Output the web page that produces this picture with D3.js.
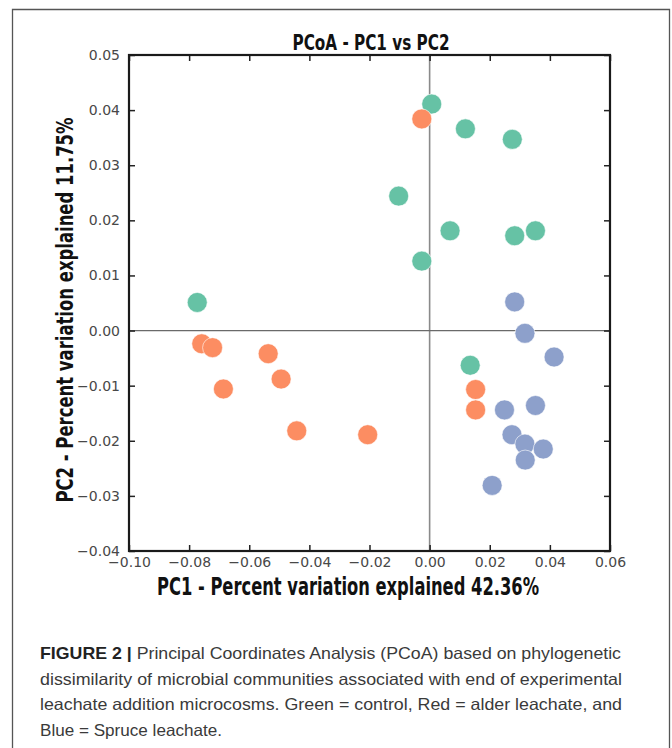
<!DOCTYPE html>
<html>
<head>
<meta charset="utf-8">
<script src="https://cdn.jsdelivr.net/npm/d3@7"></script>
<style>
  html, body { margin: 0; padding: 0; background: #fff; }
  svg { display: block; }
</style>
</head>
<body>
<svg id="chart" width="672" height="748"></svg>
<script>
// ---- data (PC1, PC2) ----
const controlPts = [
  [-0.0773, 0.0051], [0.0007, 0.0411], [0.0119, 0.0366], [0.0275, 0.0347],
  [-0.0103, 0.0244], [0.0068, 0.0181], [0.0283, 0.0172], [0.0352, 0.0181],
  [-0.0026, 0.0126], [0.0135, -0.0063]
];
const alderPts = [
  [-0.0758, -0.0024], [-0.0722, -0.0031], [-0.0686, -0.0106], [-0.0537, -0.0042],
  [-0.0494, -0.0088], [-0.0442, -0.0182], [-0.0206, -0.0189], [-0.0026, 0.0384],
  [0.0153, -0.0107], [0.0153, -0.0144]
];
const sprucePts = [
  [0.0283, 0.0052], [0.0317, -0.0005], [0.0414, -0.0048], [0.0249, -0.0144],
  [0.0352, -0.0136], [0.0274, -0.0189], [0.0317, -0.0206], [0.0378, -0.0215],
  [0.0318, -0.0235], [0.0208, -0.0281]
];
const groupNames = ["control", "alder", "spruce"];
const groupColors = ["#66c2a5", "#fc8d62", "#8da0cb"];
const xTicks = [-0.10, -0.08, -0.06, -0.04, -0.02, 0.00, 0.02, 0.04, 0.06];
const yTicks = [-0.04, -0.03, -0.02, -0.01, 0.00, 0.01, 0.02, 0.03, 0.04, 0.05];
const titleText = "PCoA - PC1 vs PC2";
const xTitle = "PC1 - Percent variation explained 42.36%";
const yTitle = "PC2 - Percent variation explained 11.75%";
const captionBold = "FIGURE 2 |";
const captionLines = [
  " Principal Coordinates Analysis (PCoA) based on phylogenetic",
  "dissimilarity of microbial communities associated with end of experimental",
  "leachate addition microcosms. Green = control, Red = alder leachate, and",
  "Blue = Spruce leachate."
];

// ---- layout ----
const svg = d3.select("#chart");
const L = 129, R = 610, T = 55, B = 551;
const x = d3.scaleLinear().domain([-0.10, 0.06]).range([L, R]);
const y = d3.scaleLinear().domain([-0.04, 0.05]).range([B, T]);
const fmt = d => d3.format(".2f")(d).replace("-", "\u2212");

// outer frame (open at bottom)
svg.append("path")
  .attr("d", "M12.5,748 L12.5,9.5 L669.5,9.5 L669.5,748")
  .attr("fill", "none").attr("stroke", "#555").attr("stroke-width", 1.3);

// zero lines
svg.append("line").attr("x1", x(0)).attr("x2", x(0)).attr("y1", T).attr("y2", B)
  .attr("stroke", "#8a8a8a").attr("stroke-width", 1.6);
svg.append("line").attr("x1", L).attr("x2", R).attr("y1", y(0)).attr("y2", y(0))
  .attr("stroke", "#6a6a6a").attr("stroke-width", 1.2);

// axes with inward ticks on all sides
const tickLen = 6;
function styleAxis(g) {
  g.select(".domain").remove();
  g.selectAll(".tick line").attr("stroke", "#222").attr("stroke-width", 1.5);
  g.selectAll(".tick text").attr("fill", "#484848")
    .style("font-family", "DejaVu Sans, sans-serif").style("font-size", "14px");
}
svg.append("g").attr("transform", `translate(0,${B})`)
  .call(d3.axisBottom(x).tickValues(xTicks).tickFormat(fmt).tickSizeInner(-tickLen).tickSizeOuter(0).tickPadding(6))
  .call(styleAxis);
svg.append("g").attr("transform", `translate(0,${T})`)
  .call(d3.axisTop(x).tickValues(xTicks).tickFormat("").tickSizeInner(-tickLen).tickSizeOuter(0))
  .call(styleAxis);
svg.append("g").attr("transform", `translate(${L},0)`)
  .call(d3.axisLeft(y).tickValues(yTicks).tickFormat(fmt).tickSizeInner(-tickLen).tickSizeOuter(0).tickPadding(9))
  .call(styleAxis);
svg.append("g").attr("transform", `translate(${R},0)`)
  .call(d3.axisRight(y).tickValues(yTicks).tickFormat("").tickSizeInner(-tickLen).tickSizeOuter(0))
  .call(styleAxis);

// spines
svg.append("rect").attr("x", L).attr("y", T).attr("width", R - L).attr("height", B - T)
  .attr("fill", "none").attr("stroke", "#1a1a1a").attr("stroke-width", 2.2);

// points
const groups = [controlPts, alderPts, sprucePts];
groups.forEach((pts, i) => {
  svg.append("g").attr("class", groupNames[i])
    .selectAll("circle").data(pts).join("circle")
    .attr("cx", d => x(d[0])).attr("cy", d => y(d[1])).attr("r", 10)
    .attr("fill", groupColors[i]).attr("stroke", "#fff").attr("stroke-width", 0.6);
});

// titles
const condFont = "'Liberation Sans Narrow', 'DejaVu Sans Condensed', sans-serif";
svg.append("text").attr("x", 371).attr("y", 50).attr("text-anchor", "middle")
  .style("font-family", condFont).style("font-weight", "bold").style("font-size", "21px")
  .attr("fill", "#111").attr("textLength", 157).attr("lengthAdjust", "spacingAndGlyphs")
  .text(titleText);
svg.append("text").attr("x", 348).attr("y", 595).attr("text-anchor", "middle")
  .style("font-family", condFont).style("font-weight", "bold").style("font-size", "24px")
  .attr("fill", "#111").attr("textLength", 382).attr("lengthAdjust", "spacingAndGlyphs")
  .text(xTitle);
svg.append("text").attr("transform", "translate(73,310) rotate(-90)").attr("text-anchor", "middle")
  .style("font-family", condFont).style("font-weight", "bold").style("font-size", "23px")
  .attr("fill", "#111").attr("textLength", 385).attr("lengthAdjust", "spacingAndGlyphs")
  .text(yTitle);

// caption
const capFont = "'Liberation Sans', Arial, sans-serif";
const capX = 40, capY0 = 659, capDy = 25.5;
const capWidths = [581, 582, 582, 182];
captionLines.forEach((line, i) => {
  const t = svg.append("text").attr("x", capX).attr("y", capY0 + i * capDy)
    .style("font-family", capFont).style("font-size", "16.5px").attr("fill", "#3a3a3a")
    .attr("textLength", capWidths[i]).attr("lengthAdjust", "spacingAndGlyphs");
  if (i === 0) {
    t.append("tspan").style("font-weight", "bold").attr("fill", "#222").text(captionBold);
  }
  t.append("tspan").text(line);
});
</script>
</body>
</html>
